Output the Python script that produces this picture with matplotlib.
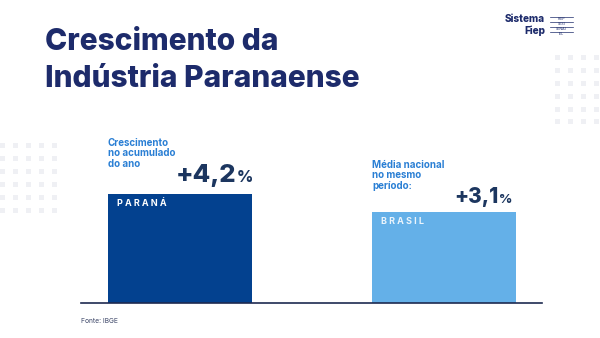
import matplotlib
matplotlib.use("Agg")
import matplotlib.pyplot as plt
import numpy as np

# growth of industrial output, accumulated in the year (%)
regions = ["PARANÁ", "BRASIL"]
growth = [4.2, 3.1]
value_labels = ["+4,2", "+3,1"]
captions = ["Crescimento\nno acumulado\ndo ano", "Média nacional\nno mesmo\nperíodo:"]

NAVY = "#1d2b6b"
BAR_COLORS = ["#03418f", "#64b0e8"]
CAPTION_BLUE = "#2a7fd4"
VALUE_NAVY = "#1c365f"
DOT = "#eff0f4"
FLOOR = -2.46   # bars rise from the axis floor

W, H = 600, 338
plt.rcParams["font.family"] = ["Inter", "DejaVu Sans"]

fig = plt.figure(figsize=(W / 100, H / 100), dpi=100)
fig.patch.set_facecolor("white")
renderer = fig.canvas.get_renderer()


def px(x, y):
    """pixel position (top-left origin) -> figure fraction"""
    return x / W, 1 - y / H


def ftext(x, y, s, **kw):
    return fig.text(*px(x, y), s, **kw)


# decorative dot grids
for x0, y0, ncol in [(-0.5, 143, 5), (555, 55, 4)]:
    for i in range(ncol):
        for j in range(6):
            fig.patches.append(plt.Rectangle(px(x0 + 13 * i, y0 + 12.9 * j + 5),
                                             5 / W, 5 / H, transform=fig.transFigure,
                                             color=DOT, lw=0, zorder=0))

# title
ftext(45, 42, "Crescimento da", fontsize=21.5, fontweight="heavy", color=NAVY, va="center")
ftext(45, 79, "Indústria Paranaense", fontsize=21.5, fontweight="heavy", color=NAVY, va="center")

# logo
ftext(545, 19, "Sistema", fontsize=7.2, fontweight="heavy", color=NAVY, ha="right", va="center")
ftext(545, 31, "Fiep", fontsize=7.2, fontweight="heavy", color=NAVY, ha="right", va="center")
for k, tag in enumerate(["FIEP", "SESI", "SENAI", "IEL"]):
    yy = 17 + 5 * k
    fig.add_artist(plt.Line2D([550 / W, 573 / W], [1 - yy / H] * 2, color=NAVY, lw=0.5))
    ftext(561.5, yy + 2.4, tag, fontsize=2.6, color=NAVY, ha="center", va="center")

# bar axes: floor line at y=303 px, from x=81 to x=542
ax = fig.add_axes([81 / W, 1 - 303 / H, (542 - 81) / W, 203 / H])
xs = np.arange(len(growth))
ax.bar(xs, np.array(growth) - FLOOR, bottom=FLOOR, width=0.545, color=BAR_COLORS, zorder=2)
ax.set_xlim(-0.375, 1.371)
ax.set_ylim(FLOOR, FLOOR + 203 / 16.36)
for side in ["top", "right", "left"]:
    ax.spines[side].set_visible(False)
ax.spines["bottom"].set_color("#1e2a50")
ax.spines["bottom"].set_linewidth(1.2)
ax.set_xticks([])
ax.set_yticks([])
ax.patch.set_alpha(0)

# labels inside the bars, spaced out
label_colors = ["white", "#eaf4fc"]
for i, name in enumerate(regions):
    ax.text(i - 0.545 / 2 + 0.035, growth[i] - 0.55, " ".join(name), color=label_colors[i],
            fontsize=6.5, fontweight="bold", va="center", ha="left")

# captions and values above the bars
ftext(108, 138, captions[0], fontsize=7, fontweight="bold", color=CAPTION_BLUE,
      va="top", linespacing=1.05)
ftext(372, 160, captions[1], fontsize=7, fontweight="bold", color=CAPTION_BLUE,
      va="top", linespacing=1.05)

for (xr, yb, size), val in zip([(253, 182, 18.5), (512, 203, 15)], value_labels):
    pct = ftext(xr, yb, "%", fontsize=size * 0.62, fontweight="heavy", color=VALUE_NAVY,
                ha="right", va="baseline")
    pw = pct.get_window_extent(renderer).width
    ftext(xr - pw - 0.5, yb, val, fontsize=size, fontweight="heavy", color=VALUE_NAVY,
          ha="right", va="baseline")

ftext(81, 321, "Fonte: IBGE", fontsize=4.8, color="#3a4466", va="center")

fig.savefig("out.png", dpi=100)
